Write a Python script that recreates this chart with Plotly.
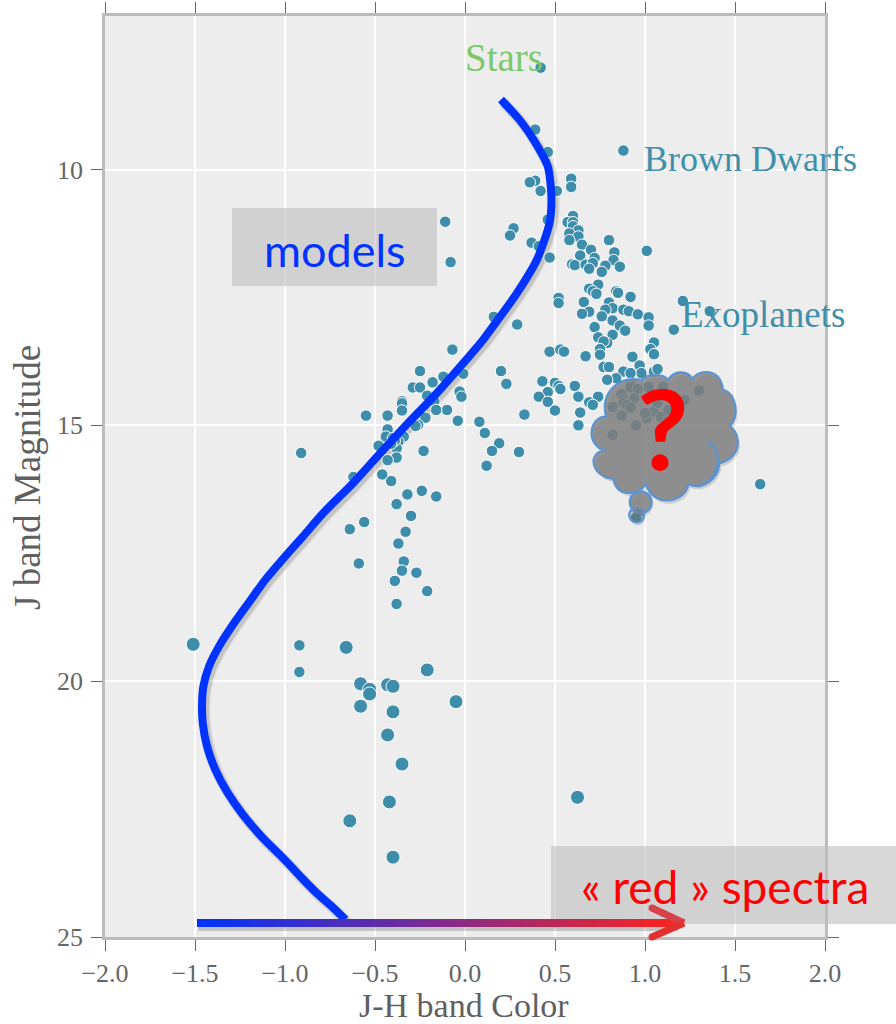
import plotly.graph_objects as go

# ---- data (J-H colour, J magnitude) ----
small_x = [0.42,0.39,0.46,0.88,0.59,0.59,0.39,0.36,0.42,0.51,-0.11,0.27,0.25,0.46,0.60,0.57,0.60,0.60,0.63,0.58,0.63,0.58,0.80,0.65,0.37,0.41,0.70,0.83,1.01,0.64,0.72,0.47,-0.08,0.825,0.595,0.61,0.67,0.71,0.69,0.78,0.76,0.86,0.74,0.69,0.71,0.73,0.84,0.85,0.92,0.52,0.52,0.66,0.16,1.21,1.36,0.69,0.65,0.80,0.82,0.78,0.76,0.88,0.91,0.96,1.02,0.82,0.29,0.72,0.86,0.89,1.02,1.16,0.74,0.82,0.79,0.77,1.05,1.03,1.05,0.75,0.75,-0.07,0.47,0.53,0.55,0.67,0.93,0.77,0.80,0.20,0.97,0.98,0.88,0.92,1.05,1.07,0.84,0.79,0.43,0.23,0.50,0.52,0.53,0.61,0.92,0.46,0.41,0.46,0.63,0.74,0.69,0.71,0.50,0.33,0.64,0.63,-0.01,-0.12,-0.03,-0.02,-0.10,-0.04,0.08,0.11,0.19,0.15,0.30,0.12,1.64,0.82,0.87,0.95,0.82,0.87,0.92,0.96,1.02,1.10,1.30,1.22,0.88,0.94,0.88,0.90,0.92,1.01,1.05,1.09,1.12,1.07,1.13,1.00,0.96,0.95,-0.25,-0.18,-0.29,-0.25,-0.21,-0.35,-0.35,-0.35,-0.35,-0.17,-0.16,-0.55,-0.43,-0.22,-0.26,-0.275,-0.43,-0.44,-0.34,-0.37,-0.48,-0.38,-0.23,-0.38,-0.43,-0.91,-0.62,-0.46,-0.41,-0.24,-0.32,-0.16,-0.38,-0.30,-0.56,-0.64,-0.33,-0.37,-0.59,-0.34,-0.35,-0.27,-0.39,-0.21,-0.38,-0.40,-0.39,-0.41,-0.92,-0.92]
small_y = [8.01,9.22,9.66,9.63,10.18,10.34,10.22,10.25,10.42,10.42,11.02,11.15,11.29,10.98,10.91,11.03,11.03,11.11,11.19,11.25,11.31,11.38,11.38,11.47,11.43,11.50,11.57,11.62,11.59,11.68,11.73,11.72,11.81,11.77,11.85,11.87,11.86,11.83,11.94,11.88,12.00,11.90,12.25,12.33,12.38,12.43,12.38,12.41,12.49,12.51,12.61,12.59,12.88,12.57,12.77,12.78,12.82,12.60,12.71,12.74,12.87,12.74,12.77,12.83,12.89,12.95,13.03,13.08,13.05,13.15,13.05,13.13,13.28,13.23,13.39,13.36,13.38,13.51,13.61,13.51,13.62,13.52,13.56,13.52,13.56,13.65,13.66,13.86,13.86,13.94,13.83,13.98,13.95,13.98,13.95,13.90,14.08,14.11,14.14,14.19,14.17,14.23,14.29,14.23,14.19,14.35,14.44,14.54,14.44,14.44,14.55,14.60,14.71,14.79,14.75,15.00,13.99,14.05,14.34,14.44,14.70,14.91,14.93,15.15,15.35,15.50,15.52,15.79,16.15,14.64,14.81,15.00,15.19,14.39,14.25,14.29,14.25,14.25,14.32,14.50,14.50,14.47,14.56,14.60,14.65,14.86,14.73,14.84,14.93,14.56,14.70,14.76,16.72,16.81,13.94,14.16,14.26,14.26,14.42,14.53,14.60,14.57,14.71,14.53,14.70,14.81,14.81,14.85,14.99,15.01,15.08,15.22,15.22,15.32,15.40,15.45,15.50,15.63,15.68,15.54,16.01,15.96,16.09,16.28,16.35,16.39,16.54,16.77,16.89,17.03,17.08,17.31,17.70,17.66,17.84,17.88,18.04,18.24,18.49,15.25,15.30,15.36,19.30,19.82]
large_x = [-1.51,-0.66,-0.58,-0.53,-0.53,-0.58,-0.43,-0.40,-0.21,-0.05,-0.40,-0.43,-0.35,-0.42,-0.64,-0.40,0.625]
large_y = [19.28,19.34,20.05,20.16,20.25,20.49,20.07,20.10,19.78,20.40,20.60,21.05,21.62,22.36,22.73,23.44,22.27]
model_x = [0.20,0.31,0.39,0.46,0.48,0.47,0.40,0.29,0.19,0.10,-0.036,-0.175,-0.32,-0.47,-0.625,-0.786,-0.90,-1.016,-1.11,-1.19,-1.284,-1.368,-1.423,-1.454,-1.461,-1.457,-1.432,-1.386,-1.321,-1.238,-1.127,-1.007,-0.914,-0.821,-0.747,-0.664]
model_y = [8.63,9.06,9.47,9.94,10.53,11.04,11.76,12.41,12.90,13.33,13.89,14.44,14.97,15.54,16.14,16.71,17.17,17.63,18.02,18.41,18.87,19.33,19.72,20.11,20.47,20.82,21.29,21.74,22.17,22.59,23.05,23.47,23.82,24.15,24.38,24.66]
x_ticks = [-2.0,-1.5,-1.0,-0.5,0.0,0.5,1.0,1.5,2.0]
x_tick_labels = ["\u22122.0","\u22121.5","\u22121.0","\u22120.5","0.0","0.5","1.0","1.5","2.0"]
y_ticks = [10,15,20,25]

# ---- layout geometry ----
W, H = 896, 1024
L, R, T, B = 105, 825, 16, 937
def X(px): return (px - L) / (R - L)
def Y(py): return (B - py) / (B - T)

SERIF = "Liberation Serif"
SANS = "Lato"
GREY = "#5f5f5f"
TEAL = "#3d8dab"
SMOOTH = 0.7

fig = go.Figure()
sx = 2.5 / 180; sy = 3 / 51.1
for w, a in ((12, .06), (9, .12)):
    fig.add_trace(go.Scatter(x=[v + sx for v in model_x], y=[v + sy for v in model_y], mode="lines",
                             line=dict(color=f"rgba(0,0,0,{a})", width=w, shape="spline", smoothing=SMOOTH),
                             hoverinfo="skip", showlegend=False))
fig.add_trace(go.Scatter(x=small_x, y=small_y, mode="markers", showlegend=False,
                         marker=dict(color=TEAL, size=11.5, line=dict(color="#ffffff", width=1))))
fig.add_trace(go.Scatter(x=large_x, y=large_y, mode="markers", showlegend=False,
                         marker=dict(color=TEAL, size=14, line=dict(color="#ffffff", width=1))))
fig.add_trace(go.Scatter(x=model_x, y=model_y, mode="lines", showlegend=False,
                         line=dict(color="#0033ff", width=8, shape="spline", smoothing=SMOOTH)))

shapes = []
# text boxes
BOX = "rgba(190,190,190,0.6)"
shapes.append(dict(type="rect", xref="paper", yref="paper", x0=X(232), x1=X(437), y0=Y(286), y1=Y(208),
                   fillcolor=BOX, line_width=0, layer="above"))
shapes.append(dict(type="rect", xref="paper", yref="paper", x0=X(551), x1=X(896), y0=Y(924), y1=Y(846),
                   fillcolor=BOX, line_width=0, layer="above"))
# gradient bar with its arrow head
shapes.append(dict(type="rect", xref="paper", yref="paper", x0=X(198), x1=X(678), y0=Y(931), y1=Y(922),
                   fillcolor="rgba(0,0,0,0.18)", line_width=0, layer="above"))
N = 80
x_a, x_b = 197, 680
for i in range(N):
    t = (i + .5) / N
    c = f"rgb({int(0 + 255*t)},{int(51 - 15*t)},{int(255 - 225*t)})"
    shapes.append(dict(type="rect", xref="paper", yref="paper",
                       x0=X(x_a + (x_b - x_a) * i / N), x1=X(x_a + (x_b - x_a) * (i + 1.2) / N),
                       y0=Y(927), y1=Y(919), fillcolor=c, line_width=0, layer="above"))
def pth(pts):
    return "M" + " L".join(f"{X(a):.5f},{Y(b):.5f}" for a, b in pts)
for pts, col in (([(652, 908), (684, 923)], "#d5424a"), ([(652, 937), (684, 923)], "#e2302f")):
    shapes.append(dict(type="path", xref="paper", yref="paper", path=pth(pts),
                       line=dict(color=col, width=7), layer="above"))
for cx, cy, col in ((652, 908, "#d5424a"), (652, 937, "#e2302f")):
    shapes.append(dict(type="circle", xref="paper", yref="paper", x0=X(cx-3.5), x1=X(cx+3.5), y0=Y(cy+3.5), y1=Y(cy-3.5),
                       fillcolor=col, line_width=0, layer="above"))

# thought cloud (drawn in px of a 3x working grid with origin 440,300)
def c3(a, b): return f"{X(440 + a/3):.5f},{Y(300 + b/3):.5f}"
cloud_segments = [
    ((480,275),(540,225),(605,240)), ((620,220),(670,220),(685,240)), ((700,210),(745,210),(757,238)),
    ((775,205),(845,205),(848,268)), ((895,285),(895,350),(870,378)), ((910,410),(900,475),(838,490)),
    ((835,540),(785,570),(745,553)), ((735,610),(640,625),(618,553)), ((590,590),(530,590),(520,537)),
    ((450,530),(440,450),(500,453)), ((435,440),(445,350),(498,350)),
]
def cloud_path(ox=0, oy=0):
    d = "M" + c3(498+ox, 350+oy)
    for p, q, r in cloud_segments:
        d += " C" + " ".join(c3(u+ox, v+oy) for u, v in (p, q, r))
    return d + " Z"
def ring(cx, cy, r, **kw):
    return dict(type="circle", xref="paper", yref="paper", x0=X(cx-r), x1=X(cx+r), y0=Y(cy+r), y1=Y(cy-r), layer="above", **kw)
SH = "rgba(0,0,0,0.13)"
shapes.append(dict(type="path", xref="paper", yref="paper", path=cloud_path(6, 10), fillcolor=SH, line_width=0, layer="above"))
shapes.append(ring(642, 505, 11, fillcolor=SH, line_width=0))
shapes.append(ring(638, 518, 7.5, fillcolor=SH, line_width=0))
CF = "rgba(128,128,128,0.82)"; CL = "#5b93d3"
shapes.append(dict(type="path", xref="paper", yref="paper", path=cloud_path(), fillcolor=CF, line=dict(color=CL, width=2.2), layer="above"))
shapes.append(dict(type="path", xref="paper", yref="paper",
                   path="M" + c3(805,425) + " C" + " ".join(c3(a,b) for a,b in ((845,445),(850,530),(775,560))),
                   line=dict(color=CL, width=2.2), layer="above"))
shapes.append(ring(640.7, 502.3, 11, fillcolor=CF, line=dict(color=CL, width=2.2)))
shapes.append(ring(636.7, 515, 7.5, fillcolor="rgba(128,128,128,0.5)", line=dict(color=CL, width=2.2)))

notes = [
    ("Stars", 504, 57, 39, "#7cc86a", SERIF),
    ("Brown Dwarfs", 750, 159, 36, "#3f8fab", SERIF),
    ("Exoplanets", 763, 314, 37, "#3f8fab", SERIF),
    ("models", 335, 250, 45, "#0033ff", SANS),
    ("\u00ab red \u00bb spectra", 725, 886, 46, "#ff0000", SANS),
    ("<b>?</b>", 663, 426, 112, "#ff0000", SANS),
    ("J-H band Color", 464, 1005, 34, GREY, SERIF),
]
annotations = [dict(text=t, x=X(a), y=Y(b), xref="paper", yref="paper", xanchor="center", yanchor="middle",
                    showarrow=False, font=dict(family=f, size=s, color=c)) for t, a, b, s, c, f in notes]
annotations.append(dict(text="J band Magnitude", x=X(27), y=Y(478), xref="paper", yref="paper", textangle=-90,
                        xanchor="center", yanchor="middle", showarrow=False, font=dict(family=SERIF, size=37, color=GREY)))

axis = dict(showgrid=True, gridcolor="#ffffff", gridwidth=1.5, zeroline=False, showline=True, linecolor="#bcbcbc",
            linewidth=2.5, mirror="ticks", ticks="outside", ticklen=11, tickwidth=1, tickcolor="#666666",
            automargin=False, tickfont=dict(family=SERIF, size=26, color="#666666"))
fig.update_layout(width=W, height=H, autosize=False, margin=dict(l=L, r=W-R, t=T, b=H-B),
                  paper_bgcolor="#ffffff", plot_bgcolor="#ededed", showlegend=False, hovermode=False,
                  xaxis=dict(axis, range=[-2, 2], tickvals=x_ticks, ticktext=x_tick_labels),
                  yaxis=dict(axis, range=[25, 7], tickvals=y_ticks, ticklabelstandoff=3),
                  shapes=shapes, annotations=annotations)
fig.write_html("out.html", config={"displayModeBar": False},
               post_script="document.body.style.margin='0';document.documentElement.style.overflow='hidden';")
